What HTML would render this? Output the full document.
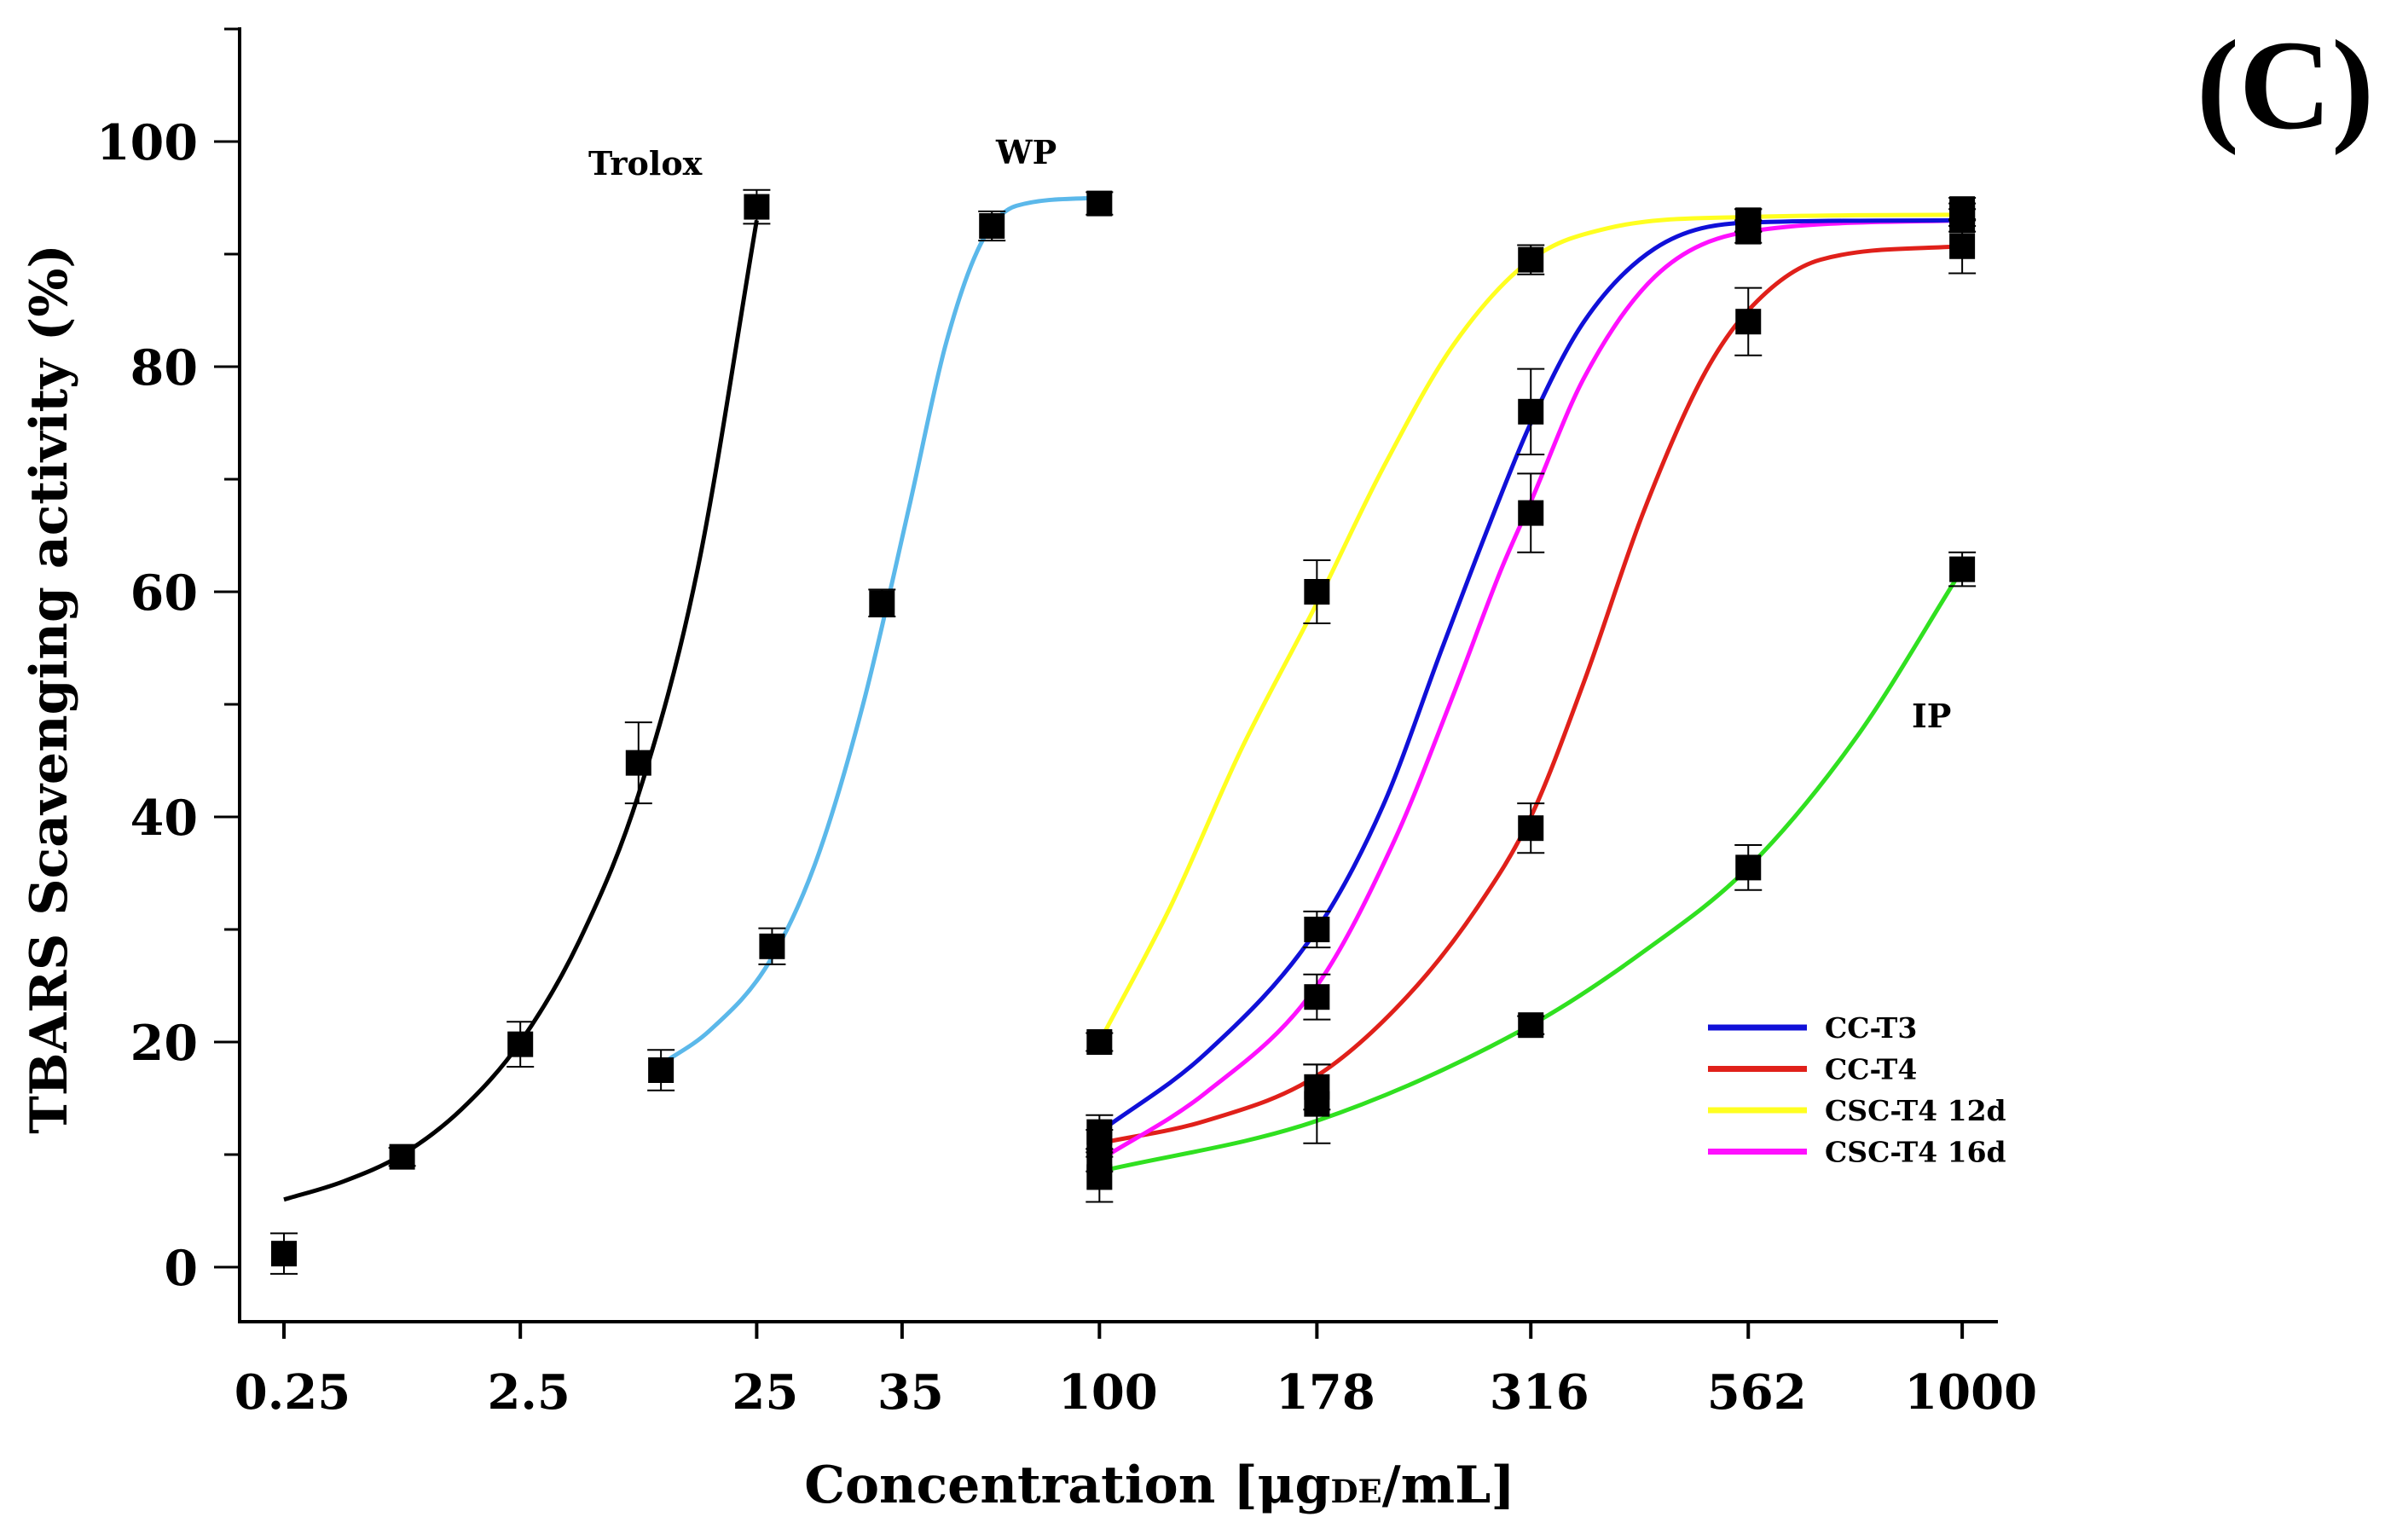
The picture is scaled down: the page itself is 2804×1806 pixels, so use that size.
<!DOCTYPE html>
<html><head><meta charset="utf-8"><style>
html,body{margin:0;padding:0;background:#fff;}
svg{display:block;font-family:"DejaVu Serif","Liberation Serif",serif;font-weight:bold;}
</style></head><body>
<svg id="chart" width="2804" height="1806" viewBox="0 0 2804 1806" xmlns="http://www.w3.org/2000/svg">
<g id="axes"></g>
<g id="curves"></g>
<g id="points"></g>
<text x="1360" y="1762" font-size="60" text-anchor="middle">Concentration [μg<tspan font-size="37">DE</tspan>/mL]</text>
<text transform="translate(78,808) rotate(-90)" font-size="60" text-anchor="middle">TBARS Scavenging activity (%)</text>
<text x="2680" y="150" font-size="150" text-anchor="middle" style="font-family:'Liberation Serif',serif">(C)</text>
<text x="690" y="205" font-size="38">Trolox</text>
<text x="1168" y="192" font-size="38">WP</text>
<text x="2242" y="853" font-size="38">IP</text>
<g id="legend"></g>
</svg>
<script>
// x positions in axis units (log-ish categorical scale), values in %
const tickLabels = ["0.25","2.5","25","35","100","178","316","562","1000"];
const tickUnits = [0,2,4,5.23,6.9,8.74,10.55,12.39,14.2];
const yTicks = [0,20,40,60,80,100];
const troloxX = [0,1,2,3,4];
const troloxY = [1.2,9.8,19.8,44.8,94.2];
const troloxErr = [1.8,0.8,2,3.6,1.5];
const troloxFitX = [0,0.5,1,1.5,2,2.5,3,3.5,4];
const troloxFitY = [6,7.6,10,14,20,29,42,62,93];
const wpX = [3.19,4.13,5.06,5.99,6.9];
const wpY = [17.5,28.5,59,92.5,94.5];
const wpErr = [1.8,1.6,1.2,1.3,1];
const wpFitX = [3.19,3.6,4.1,4.5,4.9,5.3,5.6,5.9,6.2,6.9];
const wpFitY = [18,21,27,36,50,68,82,91,94.3,95];
const rightX = [6.9,8.74,10.55,12.39,14.2];
const ct3Y = [12,30,76,93,94];
const ct4Y = [11,16,39,84,90.7];
const csc12Y = [20,60,89.5,93,93.5];
const csc16Y = [9.5,24,67,92,93];
const ipY = [8,14.5,21.5,35.5,62];
const ct3Err = [1.5,1.6,3.8,1,1];
const ct4Err = [1.2,2,2.2,3,2.4];
const csc12Err = [0.8,2.8,1.3,1,1];
const csc16Err = [1,2,3.5,1,1];
const ipErr = [2.2,3.5,0.8,2,1.5];
// fitted curve samples
const csc12FitX = [6.9,7.5,8.1,8.74,9.3,9.9,10.55,11.2,12.39,14.2];
const csc12FitY = [20,32,46,59,71,82,89.5,92.3,93.3,93.5];
const ct3FitX = [6.9,7.8,8.74,9.3,9.8,10.2,10.55,11.0,11.6,12.39,14.2];
const ct3FitY = [12,19,30,41,55,66,75,84,90.5,92.8,93];
const csc16FitX = [6.9,7.8,8.74,9.4,9.9,10.3,10.55,11.0,11.6,12.39,14.2];
const csc16FitY = [9.5,15.5,25,38,51,62,68,79,88,92,93];
const ct4FitX = [6.9,7.8,8.74,9.5,10.1,10.55,11.0,11.5,12.0,12.39,13.0,14.2];
const ct4FitY = [11,13,17,24,32,40,52,67,79,85,89.5,90.7];
const ipFitX = [6.9,8.74,10.55,11.5,12.39,13.3,14.2];
const ipFitY = [8.5,13,21.5,28,35.5,47,62];
const legendNames = ["CC-T3","CC-T4","CSC-T4 12d","CSC-T4 16d"];
const legendColors = ["#1010d8","#e0201a","#ffff20","#ff10ff"];

const X0=333, XU=138.6, Y0=1486, YU=13.2;
function xs(u){return X0+u*XU;}
function ys(v){return Y0-v*YU;}
const NS="http://www.w3.org/2000/svg";
function mk(parent,tag,attrs){const e=document.createElementNS(NS,tag);for(const k in attrs)e.setAttribute(k,attrs[k]);parent.appendChild(e);return e;}

const axes=document.getElementById('axes');
let a=mk(axes,'path',{d:`M281 32 V1550 H2343`,fill:'none',stroke:'#000','stroke-width':4});


for(let v=0;v<=110;v+=10){
  const t=mk(axes,'line',{x1:(v%20===0?251:263),x2:281,y1:ys(v),y2:ys(v),stroke:'#000','stroke-width':3});
  
  
}
yTicks.forEach(v=>{
  const t=mk(axes,'text',{x:232,y:ys(v)+21,'font-size':57,'text-anchor':'end'});t.textContent=v;
  
  
});
tickUnits.forEach((u,i)=>{
  const l=mk(axes,'line',{x1:xs(u),x2:xs(u),y1:1550,y2:1570,stroke:'#000','stroke-width':4});
  
  
  const t=mk(axes,'text',{x:xs(u)+10,y:1652,'font-size':56,'text-anchor':'middle'});t.textContent=tickLabels[i];
  
  
});

function monoPath(xv,yv){
  const P=xv.map((x,i)=>[xs(x),ys(yv[i])]);const n=P.length;
  const d=[],m=[];
  for(let i=0;i<n-1;i++)d.push((P[i+1][1]-P[i][1])/(P[i+1][0]-P[i][0]));
  m.push(d[0]);for(let i=1;i<n-1;i++)m.push(d[i-1]*d[i]<=0?0:(d[i-1]+d[i])/2);m.push(d[n-2]);
  for(let i=0;i<n-1;i++){if(d[i]===0){m[i]=m[i+1]=0;continue;}const a=m[i]/d[i],b=m[i+1]/d[i],s=a*a+b*b;if(s>9){const t=3/Math.sqrt(s);m[i]=t*a*d[i];m[i+1]=t*b*d[i];}}
  let s=`M${P[0][0]} ${P[0][1]}`;
  for(let i=0;i<n-1;i++){const h=(P[i+1][0]-P[i][0])/3;s+=` C${P[i][0]+h} ${P[i][1]+m[i]*h} ${P[i+1][0]-h} ${P[i+1][1]-m[i+1]*h} ${P[i+1][0]} ${P[i+1][1]}`;}
  return s;
}
const curves=document.getElementById('curves');
const series=[
 {name:'trolox',fx:troloxFitX,fy:troloxFitY,px:troloxX,py:troloxY,e:troloxErr,c:'#000'},
 {name:'wp',fx:wpFitX,fy:wpFitY,px:wpX,py:wpY,e:wpErr,c:'#5bb8ea'},
 {name:'csc-t4-12d',fx:csc12FitX,fy:csc12FitY,px:rightX,py:csc12Y,e:csc12Err,c:legendColors[2]},
 {name:'ip',fx:ipFitX,fy:ipFitY,px:rightX,py:ipY,e:ipErr,c:'#30e020'},
 {name:'cc-t4',fx:ct4FitX,fy:ct4FitY,px:rightX,py:ct4Y,e:ct4Err,c:legendColors[1]},
 {name:'csc-t4-16d',fx:csc16FitX,fy:csc16FitY,px:rightX,py:csc16Y,e:csc16Err,c:legendColors[3]},
 {name:'cc-t3',fx:ct3FitX,fy:ct3FitY,px:rightX,py:ct3Y,e:ct3Err,c:legendColors[0]}
];
const pts=document.getElementById('points');
series.forEach(s=>{
  const p=mk(curves,'path',{d:monoPath(s.fx,s.fy),fill:'none',stroke:s.c,'stroke-width':5});
  
  
  s.px.forEach((x,i)=>{
    const cx=xs(x),cy=ys(s.py[i]),e=s.e[i]*YU;
    const eb=mk(pts,'path',{d:`M${cx} ${cy-e} V${cy+e} M${cx-16} ${cy-e} H${cx+16} M${cx-16} ${cy+e} H${cx+16}`,stroke:'#000','stroke-width':2,fill:'none'});
    
    
    const r=mk(pts,'rect',{x:cx-15,y:cy-15,width:30,height:30,fill:'#000'});
    
    
  });
});
const lg=document.getElementById('legend');
legendNames.forEach((n,i)=>{
  const y=1205+i*48.5;
  const l=mk(lg,'line',{x1:2003,x2:2119,y1:y,y2:y,stroke:legendColors[i],'stroke-width':7});
  
  
  const t=mk(lg,'text',{x:2140,y:y+12,'font-size':33});t.textContent=n;
  
  
});
</script>
</body></html>
